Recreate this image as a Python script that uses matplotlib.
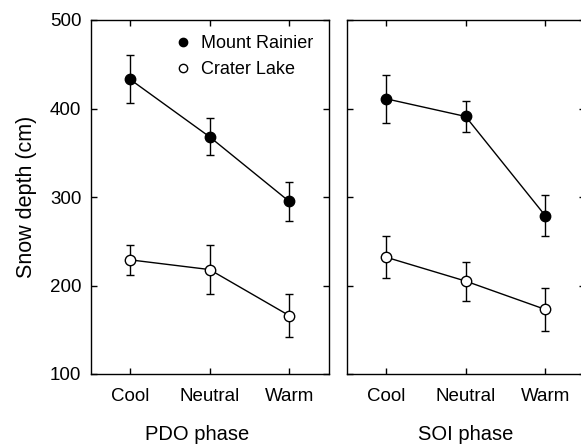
import matplotlib
matplotlib.use("Agg")
from matplotlib import pyplot as plt
from matplotlib.lines import Line2D

plt.rcParams["font.family"] = ["Liberation Sans", "DejaVu Sans"]

phases = ["Cool", "Neutral", "Warm"]

# PDO panel
pdo_rainier = [433, 368, 295]
pdo_rainier_err = [27, 21, 22]
pdo_crater = [229, 218, 166]
pdo_crater_err = [17, 28, 24]

# SOI panel
soi_rainier = [411, 391, 279]
soi_rainier_err = [27, 18, 23]
soi_crater = [232, 205, 173]
soi_crater_err = [24, 22, 24]

fig = plt.figure(figsize=(5.81, 4.46), dpi=100)
ax1 = fig.add_axes([91 / 581, 72 / 446, 238 / 581, 354 / 446])
ax2 = fig.add_axes([347 / 581, 72 / 446, 238 / 581, 354 / 446])

x = list(range(len(phases)))


def draw(ax, rainier, rainier_err, crater, crater_err):
    ax.errorbar(x, rainier, yerr=rainier_err, fmt="-o", color="black",
                mfc="black", mec="black", ms=7.5, lw=1, elinewidth=1,
                capsize=3, capthick=1, zorder=3)
    ax.errorbar(x, crater, yerr=crater_err, fmt="-o", color="black",
                mfc="white", mec="black", ms=7.5, lw=1, elinewidth=1,
                capsize=3, capthick=1, zorder=3)
    ax.set_xlim(-0.49, 2.5)
    ax.set_ylim(100, 500)
    ax.set_xticks(x)
    ax.set_xticklabels(phases)
    ax.set_yticks([100, 200, 300, 400, 500])
    ax.tick_params(direction="in", top=True, right=True, length=4,
                   width=1, labelsize=13.5)
    ax.tick_params(axis="x", pad=10)
    ax.tick_params(axis="y", pad=7)
    for s in ax.spines.values():
        s.set_linewidth(1)


draw(ax1, pdo_rainier, pdo_rainier_err, pdo_crater, pdo_crater_err)
draw(ax2, soi_rainier, soi_rainier_err, soi_crater, soi_crater_err)

ax1.set_ylabel("Snow depth (cm)", fontsize=15.5, labelpad=9)
ax1.set_xlabel("PDO phase", fontsize=14.5, labelpad=12)
ax1.xaxis.set_label_coords(0.445, -0.145)
ax2.set_xlabel("SOI phase", fontsize=14.5, labelpad=12)
ax2.xaxis.set_label_coords(0.5, -0.145)
ax2.set_yticklabels([])

handles = [
    Line2D([], [], ls="none", marker="o", ms=6, mfc="black", mec="black"),
    Line2D([], [], ls="none", marker="o", ms=6, mfc="white", mec="black"),
]
ax1.legend(handles, ["Mount Rainier", "Crater Lake"], loc="upper right",
           frameon=False, fontsize=13, handlelength=0.8, handletextpad=0.6,
           labelspacing=0.5, borderaxespad=0.55, borderpad=0.3)

fig.savefig("out.png", dpi=100)
